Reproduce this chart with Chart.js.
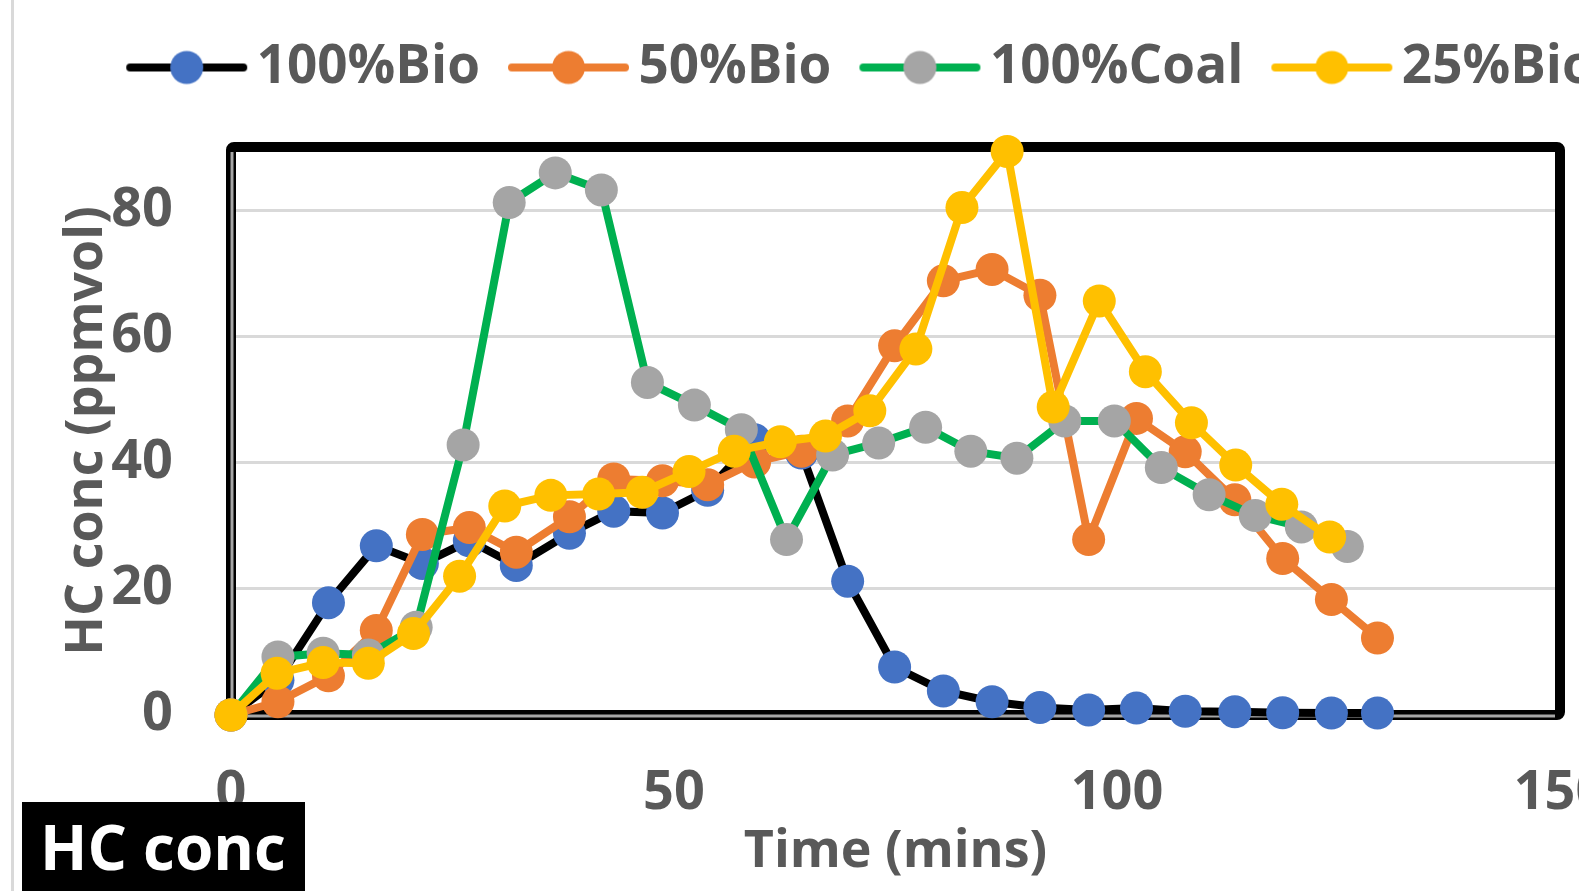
<!DOCTYPE html>
<html>
<head>
<meta charset="utf-8">
<script src="https://cdn.jsdelivr.net/npm/chart.js@4"></script>
<style>
  html, body { margin: 0; padding: 0; background: #fff; overflow: hidden; }
  #wrap { position: relative; width: 1579px; height: 891px; overflow: hidden; }
  #frame { position: absolute; left: 11px; top: 0; width: 3px; height: 891px; background: #d9d9d9; }
  #tag { position: absolute; left: 22px; top: 802px; width: 283px; height: 89px; background: #000; color: #fff;
         font: bold 62px 'Open Sans'; line-height: 89px; padding-left: 18px; box-sizing: border-box; white-space: nowrap; }
  canvas { position: absolute; left: 0; top: 0; }
</style>
</head>
<body>
<div id="wrap">
  <div id="frame"></div>
  <canvas id="hc-chart"></canvas>
  <div id="tag">HC conc</div>
</div>
<script>
const seriesNames = ['100%Bio', '50%Bio', '100%Coal', '25%Bio'];

// sampling times (mins)
const bioTime = [0, 5.3, 11.0, 16.4, 21.6, 26.9, 32.2, 38.2, 43.2, 48.7, 53.8, 59.1, 64.4,
                 69.6, 74.9, 80.4, 85.9, 91.3, 96.8, 102.2, 107.7, 113.3, 118.7, 124.2, 129.4];
const coalTime = [0, 5.3, 10.4, 15.5, 20.9, 26.2, 31.4, 36.6, 41.8, 47.0, 52.3, 57.6, 62.7,
                  67.9, 73.1, 78.4, 83.5, 88.7, 94.1, 99.7, 105.0, 110.4, 115.6, 120.8, 126.0];
const bio25Time = [0, 5.2, 10.4, 15.5, 20.6, 25.8, 30.9, 36.1, 41.5, 46.4, 51.7, 56.8, 62.0,
                   67.1, 72.1, 77.3, 82.5, 87.6, 92.8, 98.0, 103.2, 108.4, 113.4, 118.6, 124.0];

// HC concentration (ppmvol)
const bio100Hc = [0, 5.5, 17.8, 26.8, 24.0, 27.6, 23.7, 28.8, 32.3, 32.0, 35.6, 43.6, 41.5,
                  21.2, 7.6, 3.8, 2.1, 1.2, 0.8, 1.1, 0.6, 0.5, 0.35, 0.3, 0.3];
const bio50Hc = [0, 2.1, 6.2, 13.4, 28.6, 29.7, 25.8, 31.4, 37.4, 37.1, 36.5, 40.1, 41.8,
                 46.6, 58.5, 68.8, 70.6, 66.5, 27.8, 47.0, 41.7, 34.1, 24.8, 18.3, 12.2];
const coalHc = [0, 9.2, 9.8, 9.5, 13.9, 42.8, 81.2, 85.9, 83.2, 52.7, 49.1, 45.2, 27.8,
                41.2, 43.1, 45.6, 41.8, 40.7, 46.6, 46.6, 39.2, 34.9, 31.6, 29.8, 26.7];
const bio25Hc = [0, 6.6, 8.3, 8.2, 12.9, 22.0, 33.1, 34.8, 35.0, 35.3, 38.6, 41.8, 43.3,
                 44.2, 48.2, 58.0, 80.4, 89.3, 48.8, 65.6, 54.4, 46.3, 39.6, 33.4, 28.2];

const xTicks = [0, 50, 100, 150];
const yTicks = [0, 20, 40, 60, 80];

const lineColors = ['#000000', '#ED7D31', '#00B050', '#FFC000'];
const markerColors = ['#4472C4', '#ED7D31', '#A5A5A5', '#FFC000'];
const textColor = '#595959';
const fontFamily = "'Open Sans', 'Noto Sans', sans-serif";
const bigFont = { family: fontFamily, size: 52, weight: 'bold' };
const tickFont = { family: fontFamily, size: 54, weight: 'bold' };
const legendFont = { family: fontFamily, size: 53, weight: 'bold' };

const times = [bioTime, bioTime, coalTime, bio25Time];
const values = [bio100Hc, bio50Hc, coalHc, bio25Hc];

// legend swatch: line with a marker in the middle
function legendMarker(line, fill) {
  const c = document.createElement('canvas');
  c.width = 130;
  c.height = 38;
  const g = c.getContext('2d');
  g.strokeStyle = line;
  g.lineWidth = 8;
  g.lineCap = 'round';
  g.beginPath();
  g.moveTo(10, 19);
  g.lineTo(123, 19);
  g.stroke();
  g.fillStyle = fill;
  g.beginPath();
  g.arc(66.5, 19, 16.5, 0, Math.PI * 2);
  g.fill();
  return c;
}
const markers = seriesNames.map((n, i) => legendMarker(lineColors[i], markerColors[i]));

// canvas is wider than the window so the legend and the 150 label run off the edge
const measure = document.createElement('canvas').getContext('2d');
measure.font = 'bold 53px ' + fontFamily;
const legendText = seriesNames.reduce((s, n) => s + measure.measureText(n).width, 0);
const canvasWidth = Math.round(872 + legendText);

const canvas = document.getElementById('hc-chart');
canvas.width = canvasWidth;
canvas.height = 891;
canvas.style.width = canvasWidth + 'px';
canvas.style.height = '891px';

const plotFrame = {
  id: 'plotFrame',
  beforeDatasetsDraw(chart) {
    const { ctx, chartArea: a } = chart;
    ctx.save();
    ctx.strokeStyle = '#000';
    ctx.lineWidth = 10;
    ctx.lineJoin = 'round';
    ctx.beginPath();
    ctx.roundRect(a.left, a.top, a.right - a.left, a.bottom - a.top, 3);
    ctx.stroke();
    ctx.strokeStyle = '#a6a6a6';
    ctx.lineWidth = 3;
    ctx.beginPath();
    ctx.moveTo(a.left + 1, a.top + 5);
    ctx.lineTo(a.left + 1, a.bottom + 1);
    ctx.lineTo(a.right - 5, a.bottom + 1);
    ctx.stroke();
    ctx.restore();
  }
};

new Chart(canvas, {
  type: 'scatter',
  data: {
    datasets: seriesNames.map((name, i) => ({
      label: name,
      data: times[i].map((t, k) => ({ x: t, y: values[i][k] })),
      showLine: true,
      borderColor: lineColors[i],
      backgroundColor: markerColors[i],
      pointBackgroundColor: markerColors[i],
      pointBorderWidth: 0,
      pointRadius: 16.5,
      borderWidth: 8,
      tension: 0,
      clip: false,
      order: seriesNames.length - i
    }))
  },
  options: {
    responsive: false,
    animation: false,
    events: [],
    layout: { padding: { top: -1, left: 0, right: 0, bottom: 0 } },
    plugins: {
      tooltip: { enabled: false },
      legend: {
        position: 'top',
        align: 'center',
        labels: {
          usePointStyle: true,
          pointStyleWidth: 90,
          boxHeight: 53,
          padding: 42,
          color: textColor,
          font: legendFont,
          generateLabels: chart => chart.data.datasets.map((ds, i) => ({
            text: ds.label,
            pointStyle: markers[i],
            datasetIndex: i,
            fontColor: textColor,
            lineWidth: 0,
            strokeStyle: 'transparent',
            fillStyle: 'transparent',
            hidden: false
          }))
        }
      }
    },
    scales: {
      x: {
        type: 'linear',
        min: 0,
        max: 150,
        afterBuildTicks: s => { s.ticks = xTicks.map(v => ({ value: v })); },
        afterFit: s => { s.height = 176; },
        grid: { display: false, drawTicks: false },
        border: { display: false },
        ticks: { font: tickFont, color: textColor, padding: 46, maxRotation: 0, autoSkip: false },
        title: { display: true, text: 'Time (mins)', font: bigFont, color: textColor, padding: { top: 0, bottom: 8 } }
      },
      // empty band between the legend and the plot
      x2: {
        type: 'linear',
        position: 'top',
        min: 0,
        max: 1,
        afterFit: s => { s.height = 43; },
        grid: { display: false, drawTicks: false },
        border: { display: false },
        ticks: { display: false }
      },
      y: {
        min: 0,
        max: 90,
        afterBuildTicks: s => { s.ticks = yTicks.map(v => ({ value: v })); },
        afterFit: s => { s.width = 231; },
        grid: { color: '#d9d9d9', lineWidth: c => (c.tick && c.tick.value === 0 ? 0 : 3), drawTicks: false },
        border: { display: false },
        ticks: { font: tickFont, color: textColor, padding: 58 },
        title: { display: true, text: 'HC conc (ppmvol)', font: bigFont, color: textColor, padding: { top: 56, bottom: 0 } }
      },
      y2: {
        position: 'right',
        min: 0,
        max: 1,
        afterFit: s => { s.width = canvasWidth - 1560; },
        grid: { display: false, drawTicks: false },
        border: { display: false },
        ticks: { display: false }
      }
    }
  },
  plugins: [plotFrame]
});
</script>
</body>
</html>
